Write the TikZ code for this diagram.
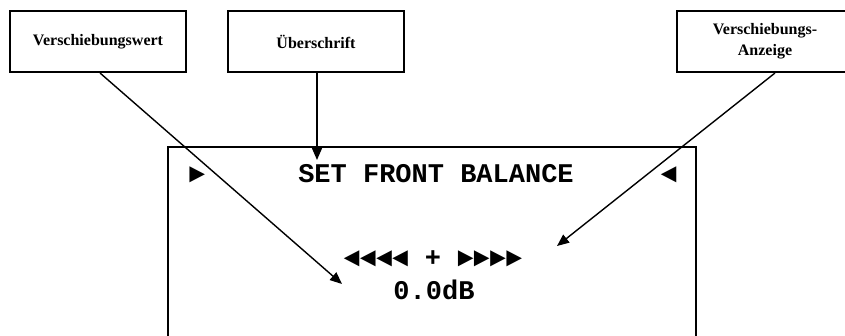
\documentclass[tikz,border=0pt]{standalone}
\usepackage{fontspec}
\setmainfont{Liberation Serif}
\newfontfamily\lcdfont{Liberation Mono}
\usetikzlibrary{arrows.meta}
\tikzset{
  label box/.style={draw, line width=2pt, minimum width=176pt, minimum height=61pt, inner sep=0pt, align=center,
    font=\fontsize{16}{21}\selectfont\bfseries},
  lcd/.style={inner sep=0pt, anchor=base, font=\fontsize{27}{27}\selectfont\lcdfont\bfseries},
  pointer/.style={line width=1.4pt, -{Triangle[length=12pt,width=10pt]}},
}
\begin{document}
\begin{tikzpicture}[x=1pt,y=-1pt]
\useasboundingbox (0,0) rectangle (845,336);
% label boxes
\node[label box] (b1) at (98,41.5) {Verschiebungswert};
\node[label box] (b2) at (316,41.5) {Überschrift};
\node[label box] (b3) at (765,41.5) {Verschiebungs-\\Anzeige};
% display frame (open at the bottom)
\draw[line width=2pt] (168,337) -- (168,147) -- (696,147) -- (696,337);
% display texts
\node[lcd] (tl) at (197,183) {►};
\node[lcd] (tr) at (669,183) {◄};
\node[lcd] (title) at (436,183) {SET FRONT BALANCE};
\node[lcd] (bar) at (433,267) {◄◄◄◄ + ►►►►};
\node[lcd] (val) at (434,300) {0.0dB};
% arrow tips
\coordinate (t1) at (342,284);
\coordinate (t2) at (317,160);
\coordinate (t3) at (557,246);
\draw[pointer] ([xshift=2pt]b1.south) -- (t1);
\draw[pointer] ([xshift=1pt]b2.south) -- (t2);
\draw[pointer] ([xshift=10pt]b3.south) -- (t3);
\end{tikzpicture}
\end{document}
